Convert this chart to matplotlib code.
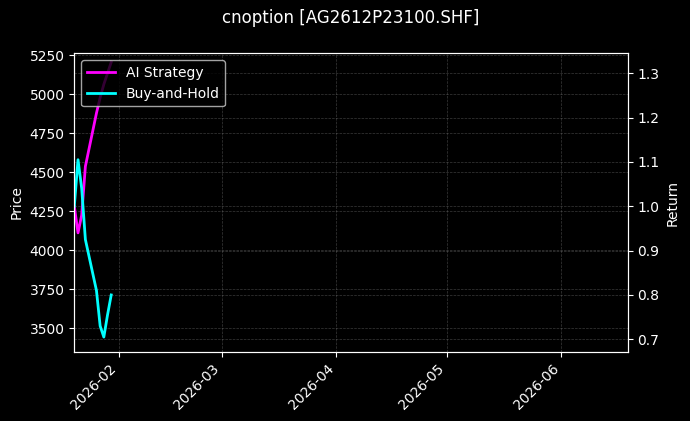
import matplotlib
matplotlib.use("Agg")
import matplotlib.pyplot as plt
import matplotlib.dates as mdates
import pandas as pd

# data
dates = ["2026-01-20", "2026-01-21", "2026-01-22", "2026-01-23", "2026-01-26",
         "2026-01-27", "2026-01-28", "2026-01-29", "2026-01-30"]
ai_strategy = [1.00, 0.94, 0.98, 1.09, 1.21, 1.245, 1.275, 1.30, 1.325]
buy_and_hold = [1.00, 1.105, 1.04, 0.925, 0.81, 0.73, 0.705, 0.755, 0.80]

x = pd.to_datetime(dates)

plt.style.use("dark_background")
plt.rcParams["font.family"] = "DejaVu Sans"

fig = plt.figure(figsize=(6.9, 4.21), dpi=100)
ax = fig.add_axes([0.1077, 0.1646, 0.8023, 0.7088])
ax2 = ax.twinx()

GRID_KW = dict(color="#808080", linestyle="--", linewidth=0.5, alpha=0.45)

ax.set_ylim(3350, 5262)
ax.set_ylabel("Price", color="white", fontsize=10)
ax.grid(True, **GRID_KW)

ax2.plot(x, ai_strategy, color="#FF00FF", lw=2, label="AI Strategy")
ax2.plot(x, buy_and_hold, color="#00FFFF", lw=2, label="Buy-and-Hold")
ax2.set_ylim(0.672, 1.345)
ax2.set_ylabel("Return", color="white", fontsize=10)
ax2.grid(True, axis="y", **GRID_KW)

ax.set_xlim(pd.Timestamp("2026-01-20"), pd.Timestamp("2026-06-19"))
ax.xaxis.set_major_locator(mdates.MonthLocator())
ax.xaxis.set_major_formatter(mdates.DateFormatter("%Y-%m"))
plt.setp(ax.get_xticklabels(), rotation=45, ha="right")

for a in (ax, ax2):
    a.tick_params(colors="white", labelsize=10)
    for s in a.spines.values():
        s.set_color("white")

leg = ax2.legend(loc="upper left", facecolor="black", edgecolor="#cccccc",
                 fontsize=10, framealpha=0.8)
for t in leg.get_texts():
    t.set_color("white")

fig.text(0.5085, 0.957, "cnoption [AG2612P23100.SHF]", ha="center", va="center",
         fontsize=12, color="white")

fig.savefig("out.png", dpi=100, facecolor="black")
